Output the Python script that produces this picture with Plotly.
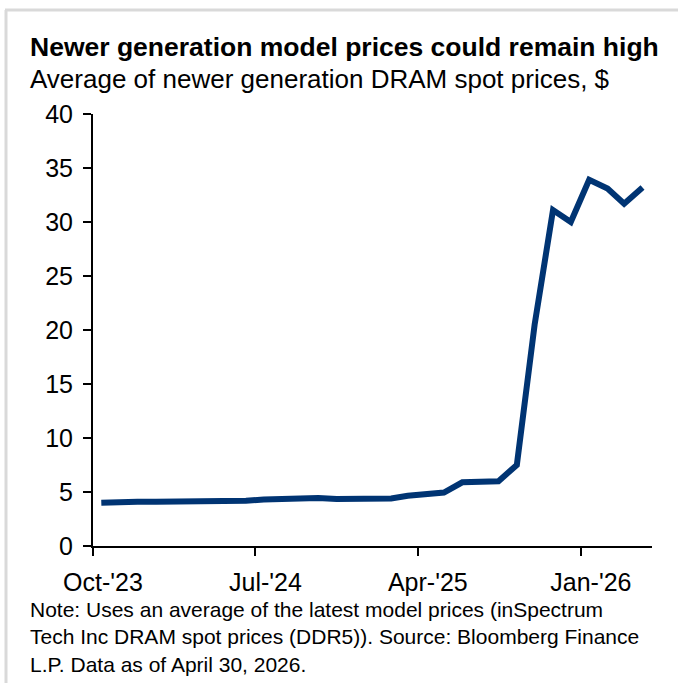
import plotly.graph_objects as go
import pandas as pd

# ---- data ----
months = ["2023-10", "2023-11", "2023-12", "2024-01", "2024-02", "2024-03",
          "2024-04", "2024-05", "2024-06", "2024-07", "2024-08", "2024-09",
          "2024-10", "2024-11", "2024-12", "2025-01", "2025-02", "2025-03",
          "2025-04", "2025-05", "2025-06", "2025-07", "2025-08", "2025-09",
          "2025-10", "2025-11", "2025-12", "2026-01", "2026-02", "2026-03",
          "2026-04"]
prices = [4.0, 4.1, 4.1, 4.1, 4.1, 4.1,
          4.2, 4.2, 4.2, 4.3, 4.35, 4.45,
          4.45, 4.35, 4.35, 4.35, 4.4, 4.65,
          4.85, 4.95, 5.9, 6.0, 6.0, 7.5,
          20.5, 31.1, 30.0, 33.9, 33.1, 31.7,
          33.2]
tick_dates = ["2023-10-01", "2024-07-01", "2025-04-01", "2026-01-01"]
tick_labels = ["Oct-'23", "Jul-'24", "Apr-'25", "Jan-'26"]
y_ticks = [0, 5, 10, 15, 20, 25, 30, 35, 40]

title = "<b>Newer generation model prices could remain high</b>"
subtitle = "Average of newer generation DRAM spot prices, $"
note = ("Note: Uses an average of the latest model prices (inSpectrum<br>"
        "Tech Inc DRAM spot prices (DDR5)). Source: Bloomberg Finance<br>"
        "L.P. Data as of April 30, 2026.")

# ---- layout geometry (pixels) ----
W, H = 678, 683
L, R, T, B = 93, 652, 114, 546
ML, MR, MT, MB = L, W - R, T, H - B


def px_x(p):
    return (p - L) / (R - L)


def px_y(p):
    return (B - p) / (B - T)


dates = pd.to_datetime([m + "-15" for m in months])

FONT = "Liberation Sans, Arial, sans-serif"
NAVY = "#003473"

fig = go.Figure()
fig.add_trace(go.Scatter(
    x=dates, y=prices, mode="lines",
    line=dict(color=NAVY, width=6),
    hoverinfo="x+y", showlegend=False,
))

fig.update_layout(
    width=W, height=H,
    margin=dict(l=ML, r=MR, t=MT, b=MB, pad=0),
    paper_bgcolor="white", plot_bgcolor="white",
    font=dict(family=FONT, color="#000000", size=25),
    xaxis=dict(
        type="date",
        range=["2023-10-01", "2026-05-01"],
        tickvals=tick_dates, ticktext=tick_labels,
        ticks="outside", ticklen=8, tickwidth=2, tickcolor="black",
        showline=True, linecolor="black", linewidth=2,
        showgrid=False, zeroline=False,
        ticklabelshift=10, ticklabelstandoff=5,
        tickfont=dict(size=25, family=FONT, color="black"),
    ),
    yaxis=dict(
        range=[0, 40], tickvals=y_ticks,
        ticks="outside", ticklen=8, tickwidth=2, tickcolor="black",
        showline=True, linecolor="black", linewidth=2,
        showgrid=False, zeroline=False,
        ticklabelstandoff=5,
        tickfont=dict(size=25, family=FONT, color="black"),
    ),
    annotations=[
        dict(text=title, x=px_x(28), y=px_y(47), xref="paper", yref="paper",
             xanchor="left", yanchor="middle", showarrow=False,
             font=dict(size=26.5, family=FONT, color="black")),
        dict(text=subtitle, x=px_x(28), y=px_y(79), xref="paper", yref="paper",
             xanchor="left", yanchor="middle", showarrow=False,
             font=dict(size=26, family=FONT, color="black")),
        dict(text=note, x=px_x(28), y=px_y(637), xref="paper", yref="paper",
             xanchor="left", yanchor="middle", showarrow=False, align="left",
             font=dict(size=21, family=FONT, color="black")),
    ],
    shapes=[
        dict(type="line", xref="paper", yref="paper",
             x0=px_x(6), x1=px_x(6), y0=px_y(10), y1=px_y(H + 5),
             line=dict(color="#D9D9D9", width=3)),
        dict(type="line", xref="paper", yref="paper",
             x0=px_x(5), x1=px_x(W + 5), y0=px_y(10), y1=px_y(10),
             line=dict(color="#D9D9D9", width=3)),
    ],
)

fig.write_html(
    "out.html",
    config={"displayModeBar": False},
    post_script="document.body.style.margin='0';document.body.style.overflow='hidden';",
)
